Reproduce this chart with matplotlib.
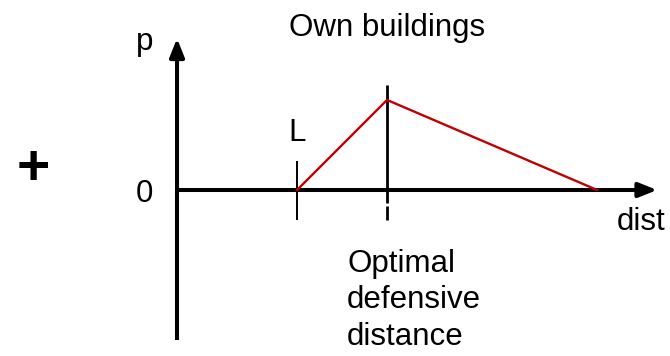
import matplotlib
matplotlib.use("Agg")
import matplotlib.pyplot as plt

plt.rcParams['font.family'] = ['Liberation Sans', 'DejaVu Sans']

# diagram values (distance units, origin where the axes cross)
profile_x = [4, 7, 14]
profile_y = [0, 3, 0]
L_pos = 4
opt_pos = 7
x_axis_end = 16
y_axis_top = 5.05
y_axis_bottom = -5

fig = plt.figure(figsize=(6.7, 3.56), dpi=100)
ax = fig.add_axes([0, 0, 1, 1])
ax.set_xlim(-5.9, 16.43)
ax.set_ylim(-5.53, 6.33)
ax.axis('off')

arrow = dict(arrowstyle='-|>,head_length=0.55,head_width=0.22', lw=2.9,
             color='black', mutation_scale=20, shrinkA=0, shrinkB=0)
# y axis
ax.plot([0, 0], [y_axis_bottom, 0], color='black', lw=2.9, solid_capstyle='butt')
ax.annotate('', xy=(0, y_axis_top), xytext=(0, 0), arrowprops=arrow)
# x axis
ax.annotate('', xy=(x_axis_end, 0), xytext=(0, 0), arrowprops=arrow)

# ticks
ax.plot([L_pos, L_pos], [-1.0, 0.97], color='black', lw=1.4, solid_capstyle='butt')
ax.plot([opt_pos, opt_pos], [-0.42, 3.5], color='black', lw=2.0, solid_capstyle='butt')
ax.plot([opt_pos, opt_pos], [-0.52, -1.0], color='black', lw=2.0, solid_capstyle='butt')

# profile
ax.plot(profile_x, profile_y, color='#C00000', lw=1.7, zorder=3)

fs = 22.5
ax.text(-1.07, 4.65, 'p', fontsize=fs, ha='center', va='baseline')
ax.text(-1.07, 0, '0', fontsize=fs, ha='center', va='center_baseline')
ax.text(3.7, 1.62, 'L', fontsize=fs, ha='left', va='baseline')
ax.text(7.0, 5.12, 'Own buildings', fontsize=fs, ha='center', va='baseline')
ax.text(14.67, -1.32, 'dist', fontsize=fs, ha='left', va='baseline')
ax.text(5.67, -1.97, 'Optimal\ndefensive\ndistance', fontsize=fs, ha='left',
        va='top', linespacing=1.27, multialignment='left')
ax.text(-4.8, 0.65, '+', fontsize=41, fontweight='bold', ha='center', va='center')

fig.savefig('out.png', dpi=100)
